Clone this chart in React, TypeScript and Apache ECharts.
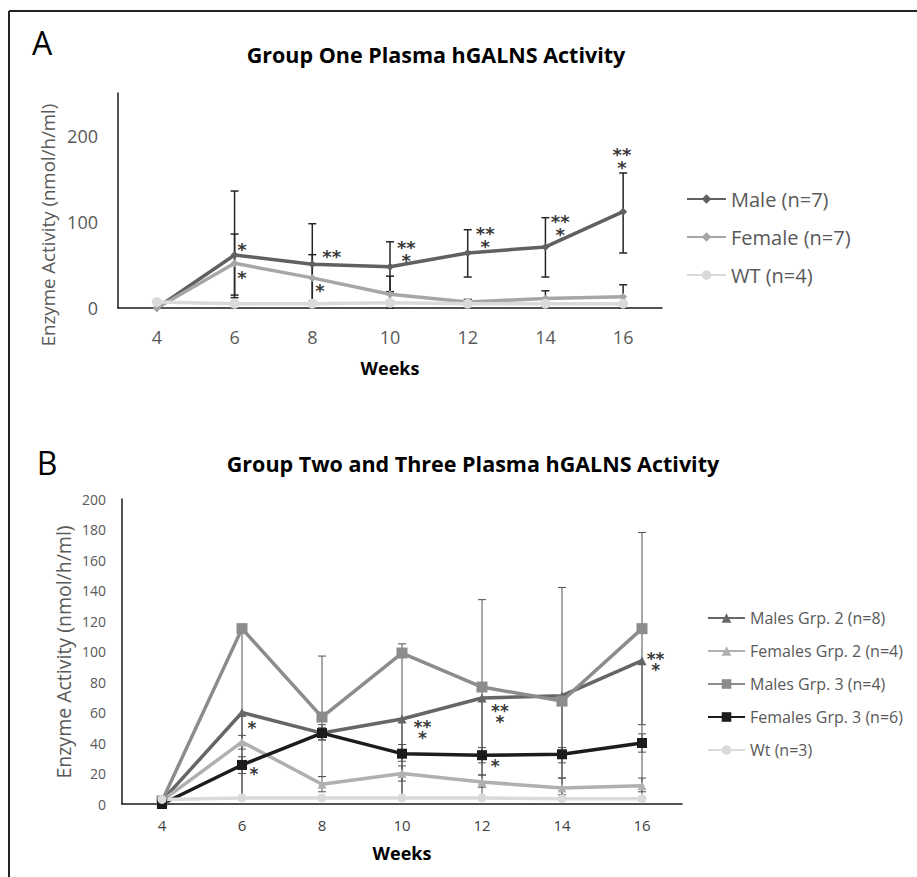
import React, { useEffect, useRef } from "react";
import * as echarts from "echarts";

const FONT = "'Open Sans', 'DejaVu Sans', sans-serif";

// ---------- shared ----------
const weeks = [4, 6, 8, 10, 12, 14, 16];

// ---------- Panel A ----------
const titleA = "Group One Plasma hGALNS Activity";
const seriesNamesA = ["Male (n=7)", "Female (n=7)", "WT (n=4)"];
const maleA = [0, 61.6, 51, 48, 64, 71, 112];
const femaleA = [0, 52, 35, 16, 7, 11, 13];
const wtA = [7, 5, 5, 6, 5, 5, 5];
const maleALow = [null, 12, 4, 19, 36, 36, 64];
const maleAHigh = [null, 136, 98, 77, 91, 105, 157];
const femaleALow = [null, 15, 8, 0, 4, 2, 0];
const femaleAHigh = [null, 86, 62, 37, 10, 20, 27];
const yTicksA = [0, 100, 200];
const annotA = [
  { week: 6.19, value: 72, text: "*" },
  { week: 6.19, value: 39.5, text: "*" },
  { week: 8.5, value: 64, text: "**" },
  { week: 8.2, value: 24, text: "*" },
  { week: 10.42, value: 66.9, text: "**\n*" },
  { week: 12.45, value: 82.6, text: "**\n*" },
  { week: 14.38, value: 97, text: "**\n*" },
  { week: 15.97, value: 174.4, text: "**\n*" },
];

// ---------- Panel B ----------
const titleB = "Group Two and Three Plasma hGALNS Activity";
const seriesNamesB = [
  "Males Grp. 2 (n=8)",
  "Females Grp. 2 (n=4)",
  "Males Grp. 3 (n=4)",
  "Females Grp. 3 (n=6)",
  "Wt (n=3)",
];
const malesG2 = [2, 60, 46.5, 55.7, 69.5, 71, 94];
const femalesG2 = [2, 40.7, 13, 20, 14.4, 10.5, 12];
const malesG3 = [2, 115, 57, 99, 76.7, 67.5, 115];
const femalesG3 = [0, 25.6, 46.5, 33, 32, 32.6, 40];
const wtB = [3, 4, 4, 4, 4, 3.5, 3.5];
const malesG2Low = [null, 4, 42, 4, 4, 4, 4];
const malesG2High = [null, 60, 52, 55.7, 69.5, 71, 94];
const femalesG2Low = [null, 36, 8, 15, 11, 6, 8];
const femalesG2High = [null, 45, 18, 25, 19, 17, 17];
const malesG3Low = [null, 4, 18, 4, 19, 17, 52];
const malesG3High = [null, 115, 97, 105, 134, 142, 178];
const femalesG3Low = [null, 20, 42, 28, 27, 27, 34];
const femalesG3High = [null, 31, 50, 39, 37, 37, 46];
const annotB = [
  { week: 6.25, value: 51.8, text: "*" },
  { week: 6.3, value: 21.6, text: "*" },
  { week: 10.51, value: 49.2, text: "**\n*" },
  { week: 12.45, value: 59.3, text: "**\n*" },
  { week: 12.33, value: 27, text: "*" },
  { week: 16.34, value: 93.8, text: "**\n*" },
];

const pairs = (vals: number[]) => weeks.map((w, i) => [w, vals[i]]);
const errData = (vals: number[], lo: (number | null)[], hi: (number | null)[]) =>
  weeks
    .map((w, i) => (lo[i] == null || hi[i] == null ? null : [w, lo[i], hi[i], vals[i]]))
    .filter((d) => d !== null);

function errRender(color: string, lw: number, capHalf: number) {
  return (params: any, api: any) => {
    const x = api.value(0);
    const lo = api.value(1);
    const hi = api.value(2);
    const v = api.value(3);
    const pLo = api.coord([x, lo]);
    const pHi = api.coord([x, hi]);
    const children: any[] = [
      {
        type: "line",
        shape: { x1: pLo[0], y1: pLo[1], x2: pHi[0], y2: pHi[1] },
        style: { stroke: color, lineWidth: lw },
      },
    ];
    if (Math.abs(hi - v) > 0.6)
      children.push({
        type: "line",
        shape: { x1: pHi[0] - capHalf, y1: pHi[1], x2: pHi[0] + capHalf, y2: pHi[1] },
        style: { stroke: color, lineWidth: lw },
      });
    if (Math.abs(lo - v) > 0.6)
      children.push({
        type: "line",
        shape: { x1: pLo[0] - capHalf, y1: pLo[1], x2: pLo[0] + capHalf, y2: pLo[1] },
        style: { stroke: color, lineWidth: lw },
      });
    return { type: "group", children };
  };
}

function lineSeries(name: string, vals: number[], color: string, symbol: string, size: number, idx: number, z = 3) {
  return {
    type: "line",
    name,
    xAxisIndex: idx,
    yAxisIndex: idx,
    data: pairs(vals),
    symbol,
    symbolSize: size,
    showSymbol: true,
    lineStyle: { color, width: 3.5 },
    itemStyle: { color, borderWidth: 0 },
    z,
  };
}

function errSeries(data: any[], color: string, lw: number, idx: number) {
  return {
    type: "custom",
    xAxisIndex: idx,
    yAxisIndex: idx,
    coordinateSystem: "cartesian2d",
    data,
    encode: { x: 0, y: [1, 2] },
    renderItem: errRender(color, lw, 4),
    z: 2,
    silent: true,
  };
}

function annotSeries(list: { week: number; value: number; text: string }[], idx: number, fontSize: number, lineHeight: number) {
  return {
    type: "scatter",
    xAxisIndex: idx,
    yAxisIndex: idx,
    data: list.map((a) => [a.week, a.value, a.text]),
    symbolSize: 0.1,
    itemStyle: { color: "rgba(0,0,0,0)" },
    label: {
      show: true,
      position: "inside",
      formatter: (p: any) => p.data[2],
      color: "#000",
      fontSize,
      lineHeight,
      align: "center",
      fontFamily: "'DejaVu Sans', sans-serif",
      fontWeight: "bold",
      offset: [0, fontSize * 0.18],
    },
    z: 5,
    silent: true,
  };
}

function xAxis(idx: number, fontSize: number, color: string, margin: number) {
  return {
    type: "value",
    gridIndex: idx,
    min: 3,
    max: 17,
    interval: 1,
    axisLine: { show: true, lineStyle: { color: "#1a1a1a", width: 1.5 } },
    axisTick: { show: false },
    splitLine: { show: false },
    axisLabel: {
      fontSize,
      color,
      fontFamily: FONT,
      margin,
      formatter: (v: number) => (weeks.includes(v) ? String(v) : ""),
    },
  };
}

export default function App() {
  const ref = useRef<HTMLDivElement>(null);
  useEffect(() => {
    if (!ref.current) return;
    const chart = echarts.init(ref.current, undefined, { renderer: "svg" });
    const option: any = {
      animation: false,
      backgroundColor: "#ffffff",
      grid: [
        { left: 118, top: 93, width: 544, height: 215 },
        { left: 122, top: 499, width: 560, height: 305 },
      ],
      xAxis: [xAxis(0, 18, "#595959", 20), xAxis(1, 15, "#404040", 13)],
      yAxis: [
        {
          type: "value",
          gridIndex: 0,
          min: 0,
          max: 250,
          interval: 100,
          axisLine: { show: true, lineStyle: { color: "#1a1a1a", width: 1.5 } },
          axisTick: { show: false },
          splitLine: { show: false },
          axisLabel: {
            fontSize: 18,
            color: "#595959",
            fontFamily: FONT,
            margin: 20,
            showMaxLabel: false,
            formatter: (v: number) => (yTicksA.includes(v) ? String(v) : ""),
          },
        },
        {
          type: "value",
          gridIndex: 1,
          min: 0,
          max: 200,
          interval: 20,
          axisLine: { show: true, lineStyle: { color: "#1a1a1a", width: 1.5 } },
          axisTick: { show: false },
          splitLine: { show: false },
          axisLabel: { fontSize: 14, color: "#595959", fontFamily: FONT, margin: 16 },
        },
      ],
      legend: [
        {
          orient: "vertical",
          left: 681,
          top: 183,
          itemWidth: 39,
          itemHeight: 12,
          itemGap: 16,
          textStyle: { fontSize: 20, color: "#595959", fontFamily: FONT, lineHeight: 22 },
          data: seriesNamesA,
        },
        {
          orient: "vertical",
          left: 702,
          top: 603,
          itemWidth: 37,
          itemHeight: 12,
          itemGap: 13,
          textStyle: { fontSize: 16, color: "#595959", fontFamily: FONT, lineHeight: 20 },
          data: seriesNamesB,
        },
      ],
      series: [
        errSeries(errData(maleA, maleALow, maleAHigh), "#262626", 1.5, 0),
        errSeries(errData(femaleA, femaleALow, femaleAHigh), "#262626", 1.5, 0),
        lineSeries(seriesNamesA[0], maleA, "#606060", "diamond", 8, 0),
        lineSeries(seriesNamesA[1], femaleA, "#a6a6a6", "diamond", 8, 0),
        lineSeries(seriesNamesA[2], wtA, "#dadada", "circle", 10, 0),
        annotSeries(annotA, 0, 18, 13),

        errSeries(errData(malesG2, malesG2Low, malesG2High), "#505050", 1, 1),
        errSeries(errData(femalesG2, femalesG2Low, femalesG2High), "#505050", 1, 1),
        errSeries(errData(malesG3, malesG3Low, malesG3High), "#505050", 1, 1),
        errSeries(errData(femalesG3, femalesG3Low, femalesG3High), "#505050", 1, 1),
        lineSeries(seriesNamesB[0], malesG2, "#666666", "triangle", 9, 1),
        lineSeries(seriesNamesB[1], femalesG2, "#b0b0b0", "triangle", 9, 1),
        lineSeries(seriesNamesB[2], malesG3, "#8c8c8c", "rect", 11, 1),
        lineSeries(seriesNamesB[3], femalesG3, "#1c1c1c", "rect", 10, 1),
        lineSeries(seriesNamesB[4], wtB, "#dadada", "circle", 9, 1),
        annotSeries(annotB, 1, 17, 11),
      ],
      graphic: [
        { type: "line", shape: { x1: 9, y1: 11, x2: 917, y2: 11 }, style: { stroke: "#222", lineWidth: 2 } },
        { type: "line", shape: { x1: 9, y1: 11, x2: 9, y2: 877 }, style: { stroke: "#222", lineWidth: 2 } },
        { type: "text", x: 42, y: 42, style: { text: "A", fontSize: 32, fontFamily: FONT, fill: "#000", textAlign: "center", textVerticalAlign: "middle" } },
        { type: "text", x: 47, y: 462, style: { text: "B", fontSize: 32, fontFamily: FONT, fill: "#000", textAlign: "center", textVerticalAlign: "middle" } },
        { type: "text", x: 436, y: 54, style: { text: titleA, fontSize: 21.5, fontWeight: "bold", fontFamily: FONT, fill: "#000", textAlign: "center", textVerticalAlign: "middle" } },
        { type: "text", x: 473, y: 463, style: { text: titleB, fontSize: 21.5, fontWeight: "bold", fontFamily: FONT, fill: "#000", textAlign: "center", textVerticalAlign: "middle" } },
        { type: "text", x: 47, y: 225, rotation: Math.PI / 2, style: { text: "Enzyme Activity (nmol/h/ml)", fontSize: 18.7, fontFamily: FONT, fill: "#595959", textAlign: "center", textVerticalAlign: "middle" } },
        { type: "text", x: 63, y: 652, rotation: Math.PI / 2, style: { text: "Enzyme Activity (nmol/h/ml)", fontSize: 19.5, fontFamily: FONT, fill: "#595959", textAlign: "center", textVerticalAlign: "middle" } },
        { type: "text", x: 390, y: 368, style: { text: "Weeks", fontSize: 18, fontWeight: "bold", fontFamily: FONT, fill: "#000", textAlign: "center", textVerticalAlign: "middle" } },
        { type: "text", x: 402, y: 853, style: { text: "Weeks", fontSize: 18, fontWeight: "bold", fontFamily: FONT, fill: "#000", textAlign: "center", textVerticalAlign: "middle" } },
      ],
    };
    chart.setOption(option);
    return () => chart.dispose();
  }, []);
  return (
    <div
      ref={ref}
      style={{ position: "fixed", left: 0, top: 0, width: 917, height: 877, background: "#fff" }}
    />
  );
}
